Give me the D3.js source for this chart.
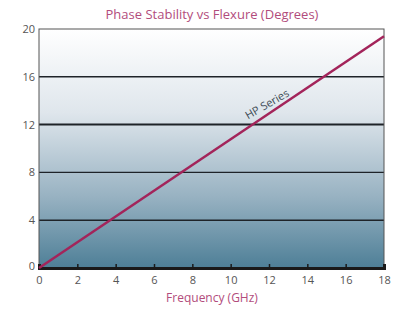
<!DOCTYPE html>
<html>
<head>
<meta charset="utf-8">
<script src="https://cdn.jsdelivr.net/npm/d3@7"></script>
<style>
body { margin: 0; background: #fff; }
text { font-family: "Open Sans", sans-serif; }
</style>
</head>
<body>
<svg id="chart" width="398" height="313"></svg>
<script>
// data
var xTicks = [0, 2, 4, 6, 8, 10, 12, 14, 16, 18];
var yTicks = [0, 4, 8, 12, 16, 20];
var freq = [0, 18];
var degrees = [0, 19.4];
var seriesName = "HP Series";

var svg = d3.select("#chart");
var margin = {top: 29, right: 14, bottom: 45, left: 39},
    width = +svg.attr("width") - margin.left - margin.right,
    height = +svg.attr("height") - margin.top - margin.bottom;

var x = d3.scaleLinear().domain([0, 18]).range([0, width]);
var y = d3.scaleLinear().domain([0, 20]).range([height, 0]);

var defs = svg.append("defs");
var grad = defs.append("linearGradient")
    .attr("id", "bg")
    .attr("x1", 0).attr("y1", 0).attr("x2", 0).attr("y2", 1);
grad.append("stop").attr("offset", "0%").attr("stop-color", "#ffffff");
grad.append("stop").attr("offset", "35%").attr("stop-color", "#dfe6ec");
grad.append("stop").attr("offset", "70%").attr("stop-color", "#98b2c2");
grad.append("stop").attr("offset", "100%").attr("stop-color", "#4e7f97");

var g = svg.append("g")
    .attr("transform", "translate(" + margin.left + "," + margin.top + ")");

g.append("rect")
    .attr("width", width)
    .attr("height", height)
    .style("fill", "url(#bg)");

// horizontal grid lines
g.selectAll(".grid")
    .data(yTicks.slice(1, -1))
    .enter().append("line")
    .attr("class", "grid")
    .attr("x1", 0)
    .attr("x2", width)
    .attr("y1", function(d) { return y(d); })
    .attr("y2", function(d) { return y(d); })
    .style("stroke", "#1e2328")
    .style("stroke-width", function(d) { return d == 12 ? 2 : 1.4; });

// frame
g.append("rect")
    .attr("width", width)
    .attr("height", height)
    .style("fill", "none")
    .style("stroke", "#555")
    .style("stroke-width", 1);

var xAxis = d3.axisBottom(x).tickValues(xTicks).tickSize(-4).tickPadding(8);
var yAxis = d3.axisLeft(y).tickValues(yTicks).tickSize(0).tickPadding(4);

var gx = g.append("g")
    .attr("transform", "translate(0," + height + ")")
    .call(xAxis);
gx.select(".domain").style("stroke", "#1a1a1a").style("stroke-width", 3);
gx.selectAll(".tick line").style("stroke", "#1a1a1a").style("stroke-width", 1.5);
gx.selectAll(".tick text").style("fill", "#555").style("font-size", "11px");

var gy = g.append("g").call(yAxis);
gy.select(".domain").remove();
gy.selectAll(".tick text").style("fill", "#555").style("font-size", "11px")
    .attr("dy", function(d) { return d == 0 ? "0.1em" : "0.32em"; });

// series line
var line = d3.line()
    .x(function(d) { return x(d[0]); })
    .y(function(d) { return y(d[1]); });

g.append("path")
    .datum(d3.zip(freq, degrees))
    .attr("d", line)
    .style("fill", "none")
    .style("stroke", "#a3245a")
    .style("stroke-width", 2.5);

// label along the line
var lx = 12.0, ly = degrees[1] / freq[1] * lx;
g.append("text")
    .attr("transform", "translate(" + x(lx) + "," + (y(ly) - 6) + ") rotate(-30)")
    .style("text-anchor", "middle")
    .style("font-size", "11px")
    .style("fill", "#3c4a55")
    .text(seriesName);

svg.append("text")
    .attr("x", 212)
    .attr("y", 19)
    .style("text-anchor", "middle")
    .style("font-size", "13px")
    .style("fill", "#b24c7c")
    .text("Phase Stability vs Flexure (Degrees)");

svg.append("text")
    .attr("x", 212)
    .attr("y", 302)
    .style("text-anchor", "middle")
    .style("font-size", "12px")
    .style("fill", "#b24c7c")
    .text("Frequency (GHz)");
</script>
</body>
</html>
